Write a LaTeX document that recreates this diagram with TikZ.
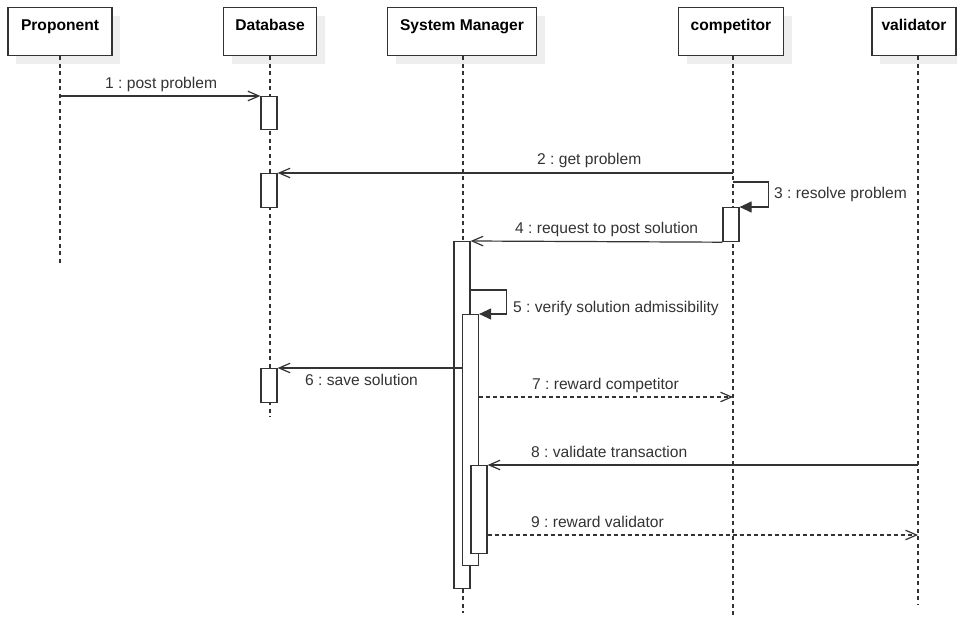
\documentclass[tikz,border=0pt]{standalone}
\usepackage{fontspec}
\setmainfont{Liberation Sans}
\frenchspacing
\usetikzlibrary{arrows.meta}
\definecolor{ink}{HTML}{333333}
\definecolor{shade}{HTML}{EEEEEE}
\tikzset{
  actor/.style={draw=ink, fill=white, line width=1.2pt, inner sep=0pt,
    text height=22.5pt, text depth=25.5pt, anchor=north,
    font=\fontsize{15.6}{18}\selectfont\bfseries, text=black,
    preaction={fill=shade, draw=none, transform canvas={shift={(8pt,-8pt)}}}},
  act/.style={draw=ink, fill=white, line width=1.2pt, inner sep=0pt,
    minimum width=16pt, anchor=north},
  lifeline/.style={draw=ink, line width=1.2pt, dash pattern=on 4pt off 3.5pt},
  msg/.style={draw=ink, line width=1.2pt, -{Straight Barb[length=11pt,width=9.5pt]}},
  reply/.style={msg, dash pattern=on 4pt off 3pt},
  selfmsg/.style={draw=ink, line width=1.2pt, -{Triangle[length=12pt,width=11pt]}},
  lbl/.style={anchor=base west, inner sep=0pt, text=ink,
    font=\fontsize{15.6}{18}\selectfont}
}
\begin{document}
\begin{tikzpicture}[x=1pt,y=-1pt]
\useasboundingbox (0,0) rectangle (957,617);
% actors
\node[actor, minimum width=104pt] (prop) at (60,7) {Proponent};
\node[actor, minimum width=93pt] (db) at (270,7) {Database};
\node[actor, minimum width=149pt] (sm) at (462,7) {System Manager};
\node[actor, minimum width=105pt] (comp) at (731,7) {competitor};
\node[actor, minimum width=84pt] (val) at (914,7) {validator};
% lifeline ends
\coordinate (propE) at (60,265);
\coordinate (dbE) at (270,417);
\coordinate (smE) at (463,613);
\coordinate (compE) at (733,617);
\coordinate (valE) at (918,604);
\draw[lifeline] (prop.south) -- (propE);
\draw[lifeline] (db.south) -- (dbE);
\draw[lifeline] (smE |- sm.south) -- (smE);
\draw[lifeline] (compE |- comp.south) -- (compE);
\draw[lifeline] (valE |- val.south) -- (valE);
% activations
\node[act, minimum height=33pt] (dbA1) at (269,96) {};
\node[act, minimum height=34pt] (dbA2) at (269,173) {};
\node[act, minimum height=34pt] (dbA3) at (269,368) {};
\node[act, minimum height=34pt] (compA) at (731,207) {};
\node[act, minimum height=347pt] (smA1) at (462,241) {};
\node[act, minimum height=251pt] (smA2) at (470.5,314) {};
\node[act, minimum height=88pt] (smA3) at (479,465) {};
% messages
\draw[msg] (propE |- dbA1.north) -- (dbA1.north west);
\node[lbl] (l1) at (105,88.5) {1 : post problem};
\draw[msg] (compE |- dbA2.north) -- (dbA2.north east);
\node[lbl] (l2) at (537,165) {2 : get problem};
\coordinate (s3) at (733,182);
\draw[selfmsg] (s3) -| ([xshift=29pt]compA.north east) -- (compA.north east);
\node[lbl] (l3) at (774,199) {3 : resolve problem};
\draw[msg] (compA.south west) -- (smA1.north east);
\node[lbl] (l4) at (515,234) {4 : request to post solution};
\coordinate (s5) at (470,290);
\draw[selfmsg] (s5) -| ([xshift=27pt]smA2.north east) -- (smA2.north east);
\node[lbl] (l5) at (513,312) {5 : verify solution admissibility};
\draw[msg] (smA2.west |- dbA3.north) -- (dbA3.north east);
\node[lbl] (l6) at (305,385) {6 : save solution};
\coordinate (t7) at (733,397);
\draw[reply] (smA2.east |- t7) -- (t7);
\node[lbl] (l7) at (532,389) {7 : reward competitor};
\draw[msg] (valE |- smA3.north) -- (smA3.north east);
\node[lbl] (l8) at (531,457) {8 : validate transaction};
\coordinate (t9) at (918,535);
\draw[reply] (smA3.east |- t9) -- (t9);
\node[lbl] (l9) at (531,527) {9 : reward validator};
\end{tikzpicture}
\end{document}
